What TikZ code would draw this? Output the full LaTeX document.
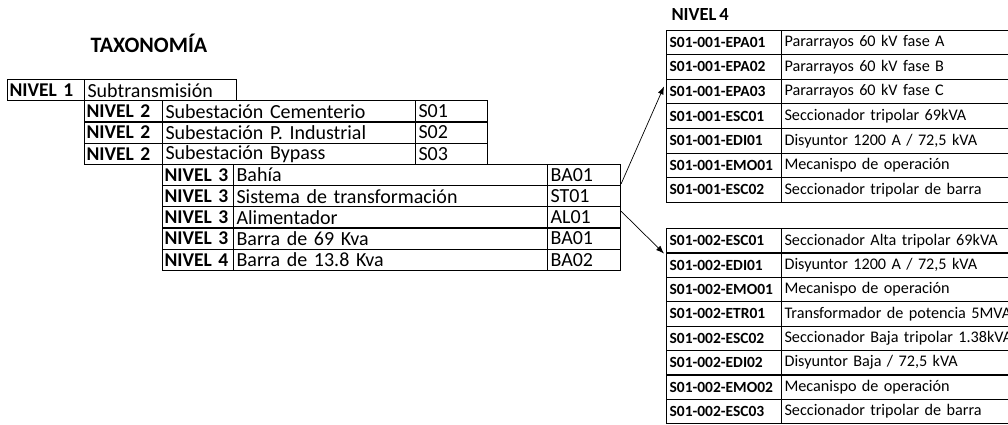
\documentclass[tikz,border=0pt]{standalone}
\usepackage{fontspec}
\setmainfont{Carlito}[WordSpace=0.7]
\usetikzlibrary{arrows.meta,calc,positioning}

\begin{document}
\begin{tikzpicture}[x=1pt,y=-1pt,
    cell/.style={draw,line width=1.1pt,anchor=north west,inner xsep=3pt,inner ysep=0pt,
                 align=left,minimum height=21.2pt,font=\fontsize{20}{21}\selectfont},
    bcell/.style={cell,inner xsep=2pt,font=\fontsize{19.5}{21}\selectfont\bfseries},
    rcell/.style={cell,minimum height=24.6pt,font=\fontsize{16.2}{18}\selectfont},
    rbcell/.style={rcell,font=\fontsize{15.5}{17}\selectfont\bfseries},
    link/.style={-{Latex[length=8pt,width=6pt]},line width=0.7pt}]
  \useasboundingbox (0,0) rectangle (1008,424);

  \node[font=\fontsize{22}{24}\selectfont\bfseries] (tax) at (149,43) {TAXONOMÍA};

  % nivel 1
  \node[bcell,text width=73pt] (l1) at (7,79) {NIVEL 1};
  \node[cell,text width=146pt] (n1) at (84,79) {Subtransmisión};

  % nivel 2
  \foreach \name/\code [count=\i] in {Subestación Cementerio/S01,
      Subestación P. Industrial/S02, Subestación Bypass/S03}
  {
    \node[bcell,text width=74pt] (l2\i) at (84,{79+\i*21.2}) {NIVEL 2};
    \node[cell,text width=247pt] (n2\i) at (162,{79+\i*21.2}) {\name};
    \node[cell,text width=66pt] (c2\i) at (415,{79+\i*21.2}) {\code};
  }

  % nivel 3
  \foreach \lev/\name/\code [count=\i] in {3/Bahía/BA01,
      3/Sistema de transformación/ST01, 3/Alimentador/AL01,
      3/Barra de 69 Kva/BA01, 4/Barra de 13.8 Kva/BA02}
  {
    \node[bcell,text width=67pt] (l3\i) at (162,{142.6+\i*21.2}) {NIVEL~\lev};
    \node[cell,text width=308pt] (n3\i) at (233,{142.6+\i*21.2}) {\name};
    \node[cell,text width=67pt] (c3\i) at (547,{142.6+\i*21.2}) {\code};
  }

  % nivel 4
  \node[font=\fontsize{18.5}{20}\selectfont\bfseries,anchor=west] (niv4) at (668,14) {NIVEL 4};
  \foreach \code/\desc [count=\i] in {S01-001-EPA01/Pararrayos 60 kV fase A,
      S01-001-EPA02/Pararrayos 60 kV fase B, S01-001-EPA03/Pararrayos 60 kV fase C,
      S01-001-ESC01/Seccionador tripolar 69kVA,
      S01-001-EDI01/{Disyuntor 1200 A / 72,5 kVA},
      S01-001-EMO01/Mecanispo de operación,
      S01-001-ESC02/Seccionador tripolar de barra}
  {
    \node[rbcell,text width=109pt] (a\i) at (666,{29.5+(\i-1)*24.6}) {\code};
    \node[rcell,text width=260pt] (ad\i) at (781,{29.5+(\i-1)*24.6}) {\desc};
  }
  \foreach \code/\desc [count=\i] in {S01-002-ESC01/Seccionador Alta tripolar 69kVA,
      S01-002-EDI01/{Disyuntor 1200 A / 72,5 kVA},
      S01-002-EMO01/Mecanispo de operación,
      S01-002-ETR01/Transformador de potencia 5MVA,
      S01-002-ESC02/Seccionador Baja tripolar 1.38kVA,
      S01-002-EDI02/{Disyuntor Baja / 72,5 kVA},
      S01-002-EMO02/Mecanispo de operación,
      S01-002-ESC03/Seccionador tripolar de barra}
  {
    \node[rbcell,minimum height=24.4pt,text width=109pt] (b\i) at (666,{228+(\i-1)*24.4}) {\code};
    \node[rcell,minimum height=24.4pt,text width=260pt] (bd\i) at (781,{228+(\i-1)*24.4}) {\desc};
  }

  \draw[link] ($(c31.east)!0.8!(c31.south east)$) -- ($(a3.west)!0.4!(a3.north west)+(-2,0)$);
  \draw[link] ($(c33.east)!0.55!(c33.north east)$) -- ($(b1.south west)+(-2,0)$);
\end{tikzpicture}
\end{document}
